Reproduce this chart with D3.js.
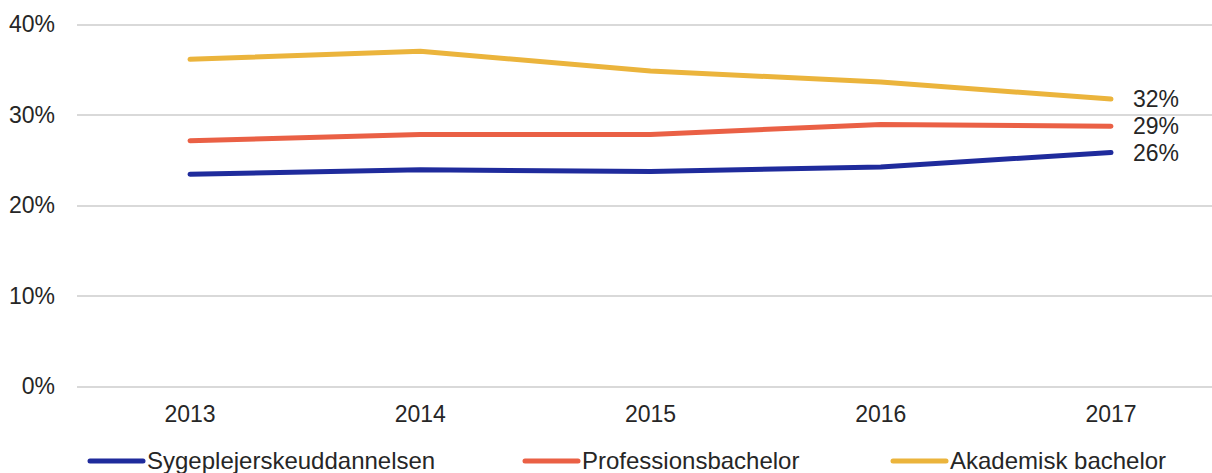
<!DOCTYPE html>
<html lang="en">
<head>
<meta charset="UTF-8">
<title>Andel over tid</title>
<script src="https://d3js.org/d3.v7.min.js"></script>
<style>
  body { margin: 0; background: #fff; }
  #chart { width: 1212px; height: 473px; }
  text { font-family: "Liberation Sans", Arial, sans-serif; fill: #262626; }
  .grid line { stroke: #d9d9d9; stroke-width: 2; shape-rendering: crispEdges; }
  .grid path { display: none; }
</style>
</head>
<body>
<div id="chart"></div>
<script>
// Data
const years = ['2013', '2014', '2015', '2016', '2017'];
const seriesNames = ['Sygeplejerskeuddannelsen', 'Professionsbachelor', 'Akademisk bachelor'];
const sygepleje = [0.234, 0.239, 0.237, 0.242, 0.258];
const profBachelor = [0.271, 0.278, 0.278, 0.289, 0.287];
const akadBachelor = [0.361, 0.370, 0.348, 0.336, 0.317];
const endLabels = ['26%', '29%', '32%'];
const yTicks = [0, 0.1, 0.2, 0.3, 0.4];
const colors = ['#1f2b9c', '#ea6045', '#ebb43c'];

const allSeries = [sygepleje, profBachelor, akadBachelor];

const width = 1212, height = 473;
const margin = { top: 24, right: 0, bottom: 87, left: 77 };

const svg = d3.select('#chart').append('svg')
  .attr('width', width)
  .attr('height', height);

const x = d3.scalePoint()
  .domain(years)
  .range([190, 1111]);

const y = d3.scaleLinear()
  .domain([0, 0.4])
  .range([height - margin.bottom, margin.top]);

// gridlines
svg.append('g')
  .attr('class', 'grid')
  .attr('transform', `translate(${margin.left},0)`)
  .call(d3.axisLeft(y).tickValues(yTicks).tickSize(-(width - margin.left)).tickFormat(''));

// y labels
svg.append('g')
  .selectAll('text')
  .data(yTicks)
  .enter().append('text')
  .attr('x', 55)
  .attr('y', d => y(d))
  .attr('dy', '0.35em')
  .attr('text-anchor', 'end')
  .style('font-size', '23px')
  .text(d => d3.format('.0%')(d));

// x labels
svg.append('g')
  .selectAll('text')
  .data(years)
  .enter().append('text')
  .attr('x', d => x(d))
  .attr('y', 414)
  .attr('dy', '0.35em')
  .attr('text-anchor', 'middle')
  .style('font-size', '23px')
  .text(d => d);

// lines
const line = d3.line()
  .x((d, i) => x(years[i]))
  .y(d => y(d));

svg.append('g')
  .selectAll('path')
  .data(allSeries)
  .enter().append('path')
  .attr('d', d => line(d))
  .attr('fill', 'none')
  .attr('stroke', (d, i) => colors[i])
  .attr('stroke-width', 5)
  .attr('stroke-linecap', 'round')
  .attr('stroke-linejoin', 'round');

// end labels
svg.append('g')
  .selectAll('text')
  .data(allSeries)
  .enter().append('text')
  .attr('x', 1133)
  .attr('y', d => y(d[d.length - 1]))
  .attr('dy', '0.35em')
  .style('font-size', '23px')
  .text((d, i) => endLabels[i]);

// legend
const legendX = [90, 525, 893];
const legend = svg.append('g')
  .selectAll('g')
  .data(seriesNames)
  .enter().append('g')
  .attr('transform', (d, i) => `translate(${legendX[i]},461)`);

legend.append('line')
  .attr('x1', 0).attr('x2', 53)
  .attr('y1', 0).attr('y2', 0)
  .attr('stroke', (d, i) => colors[i])
  .attr('stroke-width', 5)
  .attr('stroke-linecap', 'round');

legend.append('text')
  .attr('x', 57)
  .attr('y', 0)
  .attr('dy', '0.35em')
  .style('font-size', '24px')
  .text(d => d);
</script>
</body>
</html>
